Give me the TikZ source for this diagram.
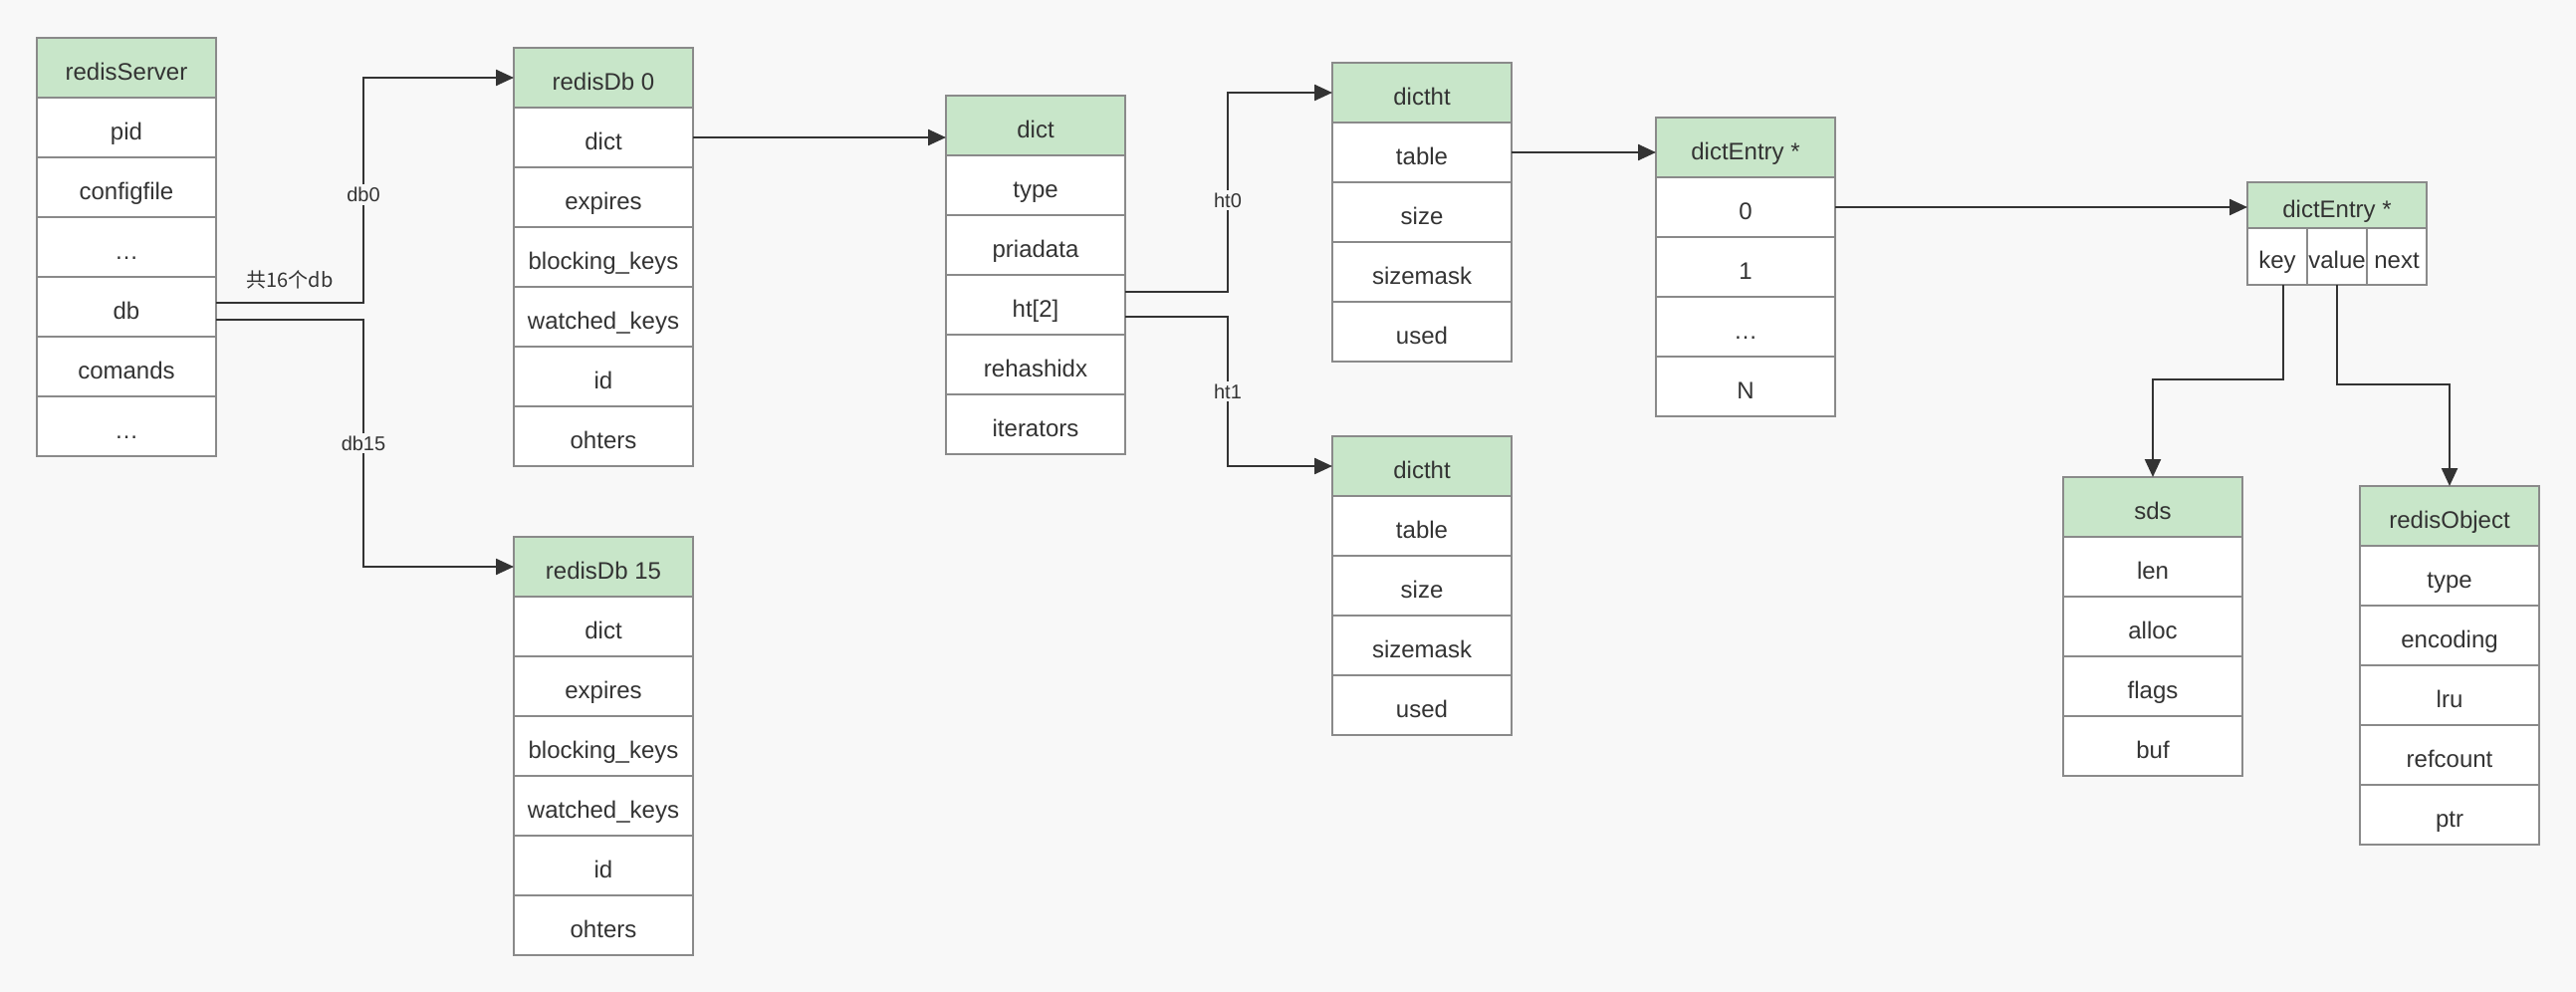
\documentclass[tikz,border=0pt]{standalone}
\usepackage{fontspec}
\setmainfont{Liberation Sans}
\newfontfamily\cjkfont{Noto Sans CJK SC}
\usetikzlibrary{arrows.meta}

\definecolor{pagebg}{HTML}{F8F8F8}
\definecolor{hdrgreen}{HTML}{C8E6C9}
\definecolor{edge}{HTML}{8A8A8A}
\definecolor{ink}{HTML}{333333}

\tikzset{
  field/.style={draw=edge, line width=0.8pt, fill=white,
    minimum width=90pt, minimum height=30pt, inner sep=0pt, outer sep=0pt,
    text height=12pt, text depth=0pt,
    text=ink, font=\fontsize{12}{14}\selectfont},
  hdr/.style={field, fill=hdrgreen},
  link/.style={draw=ink, line width=1.2pt, -{Triangle[length=9pt,width=8pt]}},
  tag/.style={fill=pagebg, inner sep=1.5pt, text=ink, font=\fontsize{10}{12}\selectfont},
}

% a record: green header cell followed by a column of field cells
\newcommand{\mkrecord}[4]{%
  \node[hdr, anchor=north west] (#1-0) at (#2) {#3};
  \foreach \t [count=\i, evaluate=\i as \p using int(\i-1)] in {#4}{%
    \node[field, anchor=north] (#1-\i) at (#1-\p.south) {\t};}%
}

\begin{document}
\begin{tikzpicture}[x=0.5pt, y=-0.5pt]
\fill[pagebg] (0,0) rectangle (2587,996);
\useasboundingbox (0,0) rectangle (2587,996);

\mkrecord{rs}{37,38}{redisServer}{pid,configfile,\ldots,db,comands,\ldots}
\mkrecord{dbz}{516,48}{redisDb 0}{dict,expires,blocking\_keys,watched\_keys,id,ohters}
\mkrecord{dbf}{516,539}{redisDb 15}{dict,expires,blocking\_keys,watched\_keys,id,ohters}
\mkrecord{dc}{950,96}{dict}{type,priadata,ht[2],rehashidx,iterators}
\mkrecord{hta}{1338,63}{dictht}{table,size,sizemask,used}
\mkrecord{htb}{1338,438}{dictht}{table,size,sizemask,used}
\mkrecord{tab}{1663,118}{dictEntry *}{0,1,\ldots,N}
\mkrecord{sds}{2072,479}{sds}{len,alloc,flags,buf}
\mkrecord{ro}{2370,488}{redisObject}{type,encoding,lru,refcount,ptr}

% a single dict entry: header over key / value / next
\node[hdr, anchor=north west, minimum height=23pt] (ent) at (2257,183) {dictEntry *};
\node[field, anchor=north west, minimum width=30pt, minimum height=28.5pt] (ent-k) at (ent.south west) {key};
\node[field, anchor=north west, minimum width=30pt, minimum height=28.5pt] (ent-v) at (ent-k.north east) {value};
\node[field, anchor=north west, minimum width=30pt, minimum height=28.5pt] (ent-n) at (ent-v.north east) {next};

% pointers
\draw[link] ([yshift=2pt]rs-4.east) -- node[above=3pt, text=ink, font=\cjkfont\fontsize{10}{12}\selectfont] {共16个db} ++(148,0)
  |- node[tag, pos=0.24] {db0} (dbz-0.west);
\draw[link] ([yshift=-6.5pt]rs-4.east) -- ++(148,0)
  |- node[tag, pos=0.25] {db15} (dbf-0.west);
\draw[link] (dbz-1.east) -- (dbz-1.east -| dc-0.west);
\draw[link] ([yshift=6.5pt]dc-3.east) -- ++(103,0)
  |- node[tag, pos=0.23] {ht0} (hta-0.west);
\draw[link] ([yshift=-6pt]dc-3.east) -- ++(103,0)
  |- node[tag, pos=0.25] {ht1} (htb-0.west);
\draw[link] (hta-1.east) -- (hta-1.east -| tab-0.west);
\draw[link] (tab-1.east) -- (tab-1.east -| ent.west);
\draw[link] ([xshift=3pt]ent-k.south) -- ++(0,95) -| (sds-0.north);
\draw[link] (ent-v.south) -- ++(0,100) -| (ro-0.north);
\end{tikzpicture}
\end{document}
